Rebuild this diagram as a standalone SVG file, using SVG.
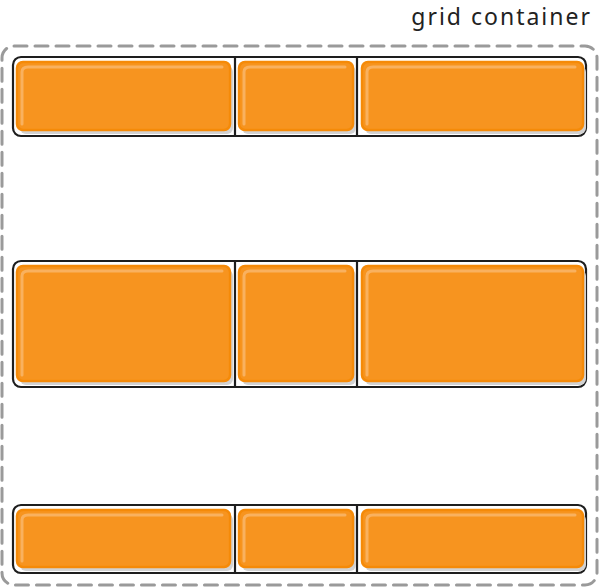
<svg xmlns="http://www.w3.org/2000/svg" width="600" height="587" viewBox="0 0 600 587">
<style>
.container{fill:none;stroke:#9a9a9a;stroke-width:3;stroke-dasharray:13 8;stroke-linecap:round}
.track{fill:#fff;stroke:#1e1e1e;stroke-width:2.2}
.div{stroke:#1e1e1e;stroke-width:2.2}
.shadow{fill:#d2d2d2}
.cell{fill:#f7941f;stroke:#f58a08;stroke-width:2.5}
.hl{fill:none;stroke:#f9b15f;stroke-width:3;stroke-linecap:round;stroke-linejoin:round}
.label{font-family:"Noto Sans","Open Sans",sans-serif;font-size:23px;fill:#222;letter-spacing:2px}
</style>
<rect fill="#fff" width="600" height="587"/>
<text class="label" x="592" y="25" text-anchor="end">grid container</text>
<g id="grid-container">
<rect class="container" x="2" y="46" width="595" height="539" rx="12"/>
</g>
<g id="row1">
<rect class="track" x="13" y="57" width="573" height="79" rx="8"/>
<line class="div" x1="235" y1="57" x2="235" y2="136"/>
<line class="div" x1="357" y1="57" x2="357" y2="136"/>
<g id="cell-1-1"><rect class="shadow" x="20" y="66" width="213" height="68" rx="6"/><rect class="cell" x="17" y="62" width="213" height="68" rx="6"/><path class="hl" d="M22 124 V72 Q22 67 28 67 H222"/></g>
<g id="cell-1-2"><rect class="shadow" x="242" y="66" width="114" height="68" rx="6"/><rect class="cell" x="239" y="62" width="114" height="68" rx="6"/><path class="hl" d="M244 124 V72 Q244 67 250 67 H345"/></g>
<g id="cell-1-3"><rect class="shadow" x="365" y="66" width="221" height="68" rx="6"/><rect class="cell" x="362" y="62" width="221" height="68" rx="6"/><path class="hl" d="M367 124 V72 Q367 67 373 67 H575"/></g>
</g>
<g id="row2">
<rect class="track" x="13" y="261" width="573" height="126" rx="8"/>
<line class="div" x1="235" y1="261" x2="235" y2="387"/>
<line class="div" x1="357" y1="261" x2="357" y2="387"/>
<g id="cell-2-1"><rect class="shadow" x="20" y="270" width="213" height="115" rx="6"/><rect class="cell" x="17" y="266" width="213" height="115" rx="6"/><path class="hl" d="M22 375 V276 Q22 271 28 271 H222"/></g>
<g id="cell-2-2"><rect class="shadow" x="242" y="270" width="114" height="115" rx="6"/><rect class="cell" x="239" y="266" width="114" height="115" rx="6"/><path class="hl" d="M244 375 V276 Q244 271 250 271 H345"/></g>
<g id="cell-2-3"><rect class="shadow" x="365" y="270" width="221" height="115" rx="6"/><rect class="cell" x="362" y="266" width="221" height="115" rx="6"/><path class="hl" d="M367 375 V276 Q367 271 373 271 H575"/></g>
</g>
<g id="row3">
<rect class="track" x="13" y="505" width="573" height="68" rx="8"/>
<line class="div" x1="235" y1="505" x2="235" y2="573"/>
<line class="div" x1="357" y1="505" x2="357" y2="573"/>
<g id="cell-3-1"><rect class="shadow" x="20" y="514" width="213" height="57" rx="6"/><rect class="cell" x="17" y="510" width="213" height="57" rx="6"/><path class="hl" d="M22 561 V520 Q22 515 28 515 H222"/></g>
<g id="cell-3-2"><rect class="shadow" x="242" y="514" width="114" height="57" rx="6"/><rect class="cell" x="239" y="510" width="114" height="57" rx="6"/><path class="hl" d="M244 561 V520 Q244 515 250 515 H345"/></g>
<g id="cell-3-3"><rect class="shadow" x="365" y="514" width="221" height="57" rx="6"/><rect class="cell" x="362" y="510" width="221" height="57" rx="6"/><path class="hl" d="M367 561 V520 Q367 515 373 515 H575"/></g>
</g>
</svg>
